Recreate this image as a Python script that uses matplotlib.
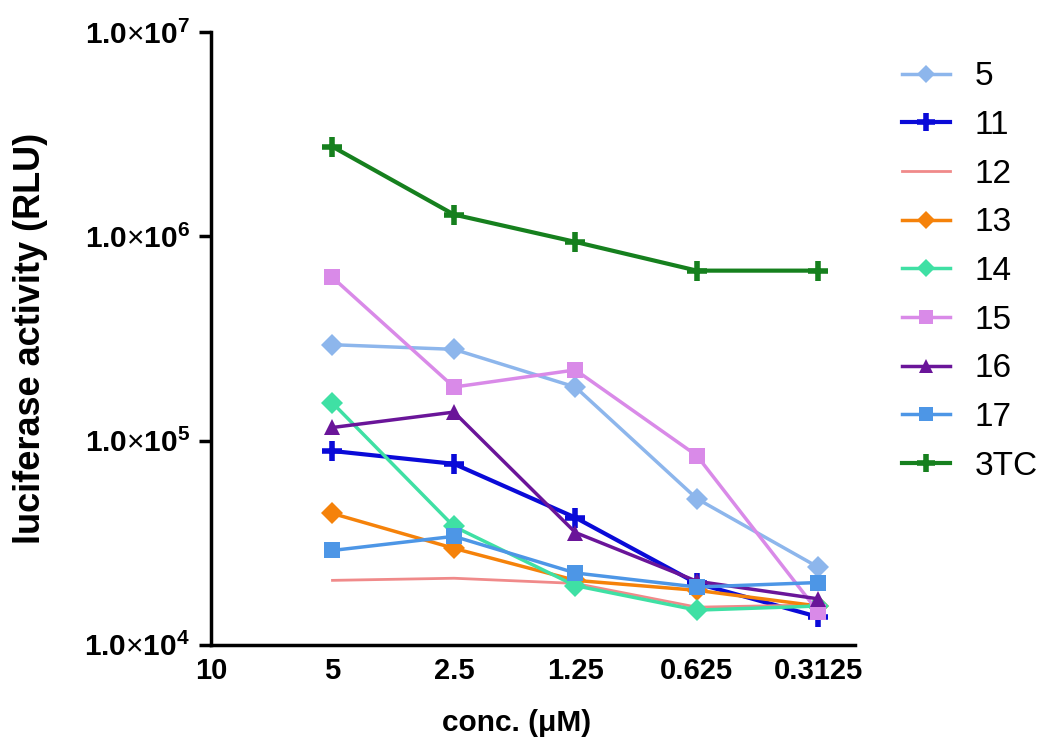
import matplotlib
matplotlib.use("Agg")
import matplotlib.pyplot as plt
import numpy as np

plt.rcParams['font.family'] = ['Liberation Sans', 'DejaVu Sans']
plt.rcParams['mathtext.fontset'] = 'custom'
plt.rcParams['mathtext.rm'] = 'Liberation Sans'
plt.rcParams['mathtext.bf'] = 'Liberation Sans:bold'

# concentrations (uM), plotted as evenly spaced categories (2-fold dilution)
conc_labels = ['10', '5', '2.5', '1.25', '0.625', '0.3125']
conc_plotted = [1, 2, 3, 4, 5]  # indices of the data points (5 .. 0.3125)

# luciferase activity (RLU) per compound
names = ['5', '11', '12', '13', '14', '15', '16', '17', '3TC']
rlu_5 = [2.95e5, 2.8e5, 1.83e5, 5.2e4, 2.4e4]
rlu_11 = [8.9e4, 7.7e4, 4.2e4, 2.0e4, 1.37e4]
rlu_12 = [2.07e4, 2.12e4, 2.0e4, 1.53e4, 1.57e4]
rlu_13 = [4.4e4, 2.97e4, 2.07e4, 1.85e4, 1.55e4]
rlu_14 = [1.53e5, 3.8e4, 1.95e4, 1.48e4, 1.55e4]
rlu_15 = [6.3e5, 1.83e5, 2.22e5, 8.45e4, 1.45e4]
rlu_16 = [1.16e5, 1.38e5, 3.55e4, 2.05e4, 1.68e4]
rlu_17 = [2.9e4, 3.4e4, 2.25e4, 1.92e4, 2.02e4]
rlu_3tc = [2.75e6, 1.28e6, 9.4e5, 6.8e5, 6.8e5]

series = [rlu_5, rlu_11, rlu_12, rlu_13, rlu_14, rlu_15, rlu_16, rlu_17, rlu_3tc]
colors = ['#8db6ec', '#0a0ad8', '#f08a8a', '#f5820a', '#3fe0a4',
          '#d98ae8', '#6a1599', '#4d96e6', '#16801e']
markers = ['D', '+', None, 'D', 'D', 's', '^', 's', '+']
msizes = [11, 15, 0, 11, 11, 12, 12, 12, 15]
mews = [0, 4, 0, 0, 0, 0, 0, 0, 4]
lwidths = [2.5, 3, 2, 2.5, 2.5, 2.5, 2.5, 2.5, 3]

fig = plt.figure(figsize=(10.5, 7.49), dpi=100)
ax = fig.add_axes([0.201, 0.139, 0.613, 0.818])

for vals, name, c, m, ms, mew, lw in zip(series, names, colors, markers, msizes, mews, lwidths):
    ax.plot(conc_plotted, vals, color=c, marker=m, markersize=ms, lw=lw,
            markeredgewidth=mew, label=name)

ax.set_yscale('log')
ax.set_ylim(1e4, 1e7)
ax.set_xlim(0, 5.3)
ax.set_yticks([1e4, 1e5, 1e6, 1e7])
ax.set_yticklabels([r'$\mathbf{1.0}{\times}\mathbf{10^{%d}}$' % e for e in [4, 5, 6, 7]])
ax.minorticks_off()
ax.set_xticks(range(len(conc_labels)))
ax.set_xticklabels(conc_labels, fontweight='bold')

for s in ['top', 'right']:
    ax.spines[s].set_visible(False)
for s in ['left', 'bottom']:
    ax.spines[s].set_linewidth(2.5)
ax.tick_params(axis='y', labelsize=21.5, width=2.5, length=9, pad=6)
ax.tick_params(axis='x', labelsize=21, length=0, pad=9)

ax.set_xlabel('conc. (\u03bcM)', fontsize=21.5, fontweight='bold', labelpad=12)
ax.xaxis.set_label_coords(0.474, -0.105)
ax.set_ylabel('luciferase activity (RLU)', fontsize=26, fontweight='bold', labelpad=26)

ax.legend(loc='upper left', bbox_to_anchor=(0.83, 0.958), bbox_transform=fig.transFigure,
          frameon=False, fontsize=24, handlelength=1.45, labelspacing=0.53,
          handletextpad=0.75, markerscale=0.85)

fig.savefig('out.png', dpi=100)
